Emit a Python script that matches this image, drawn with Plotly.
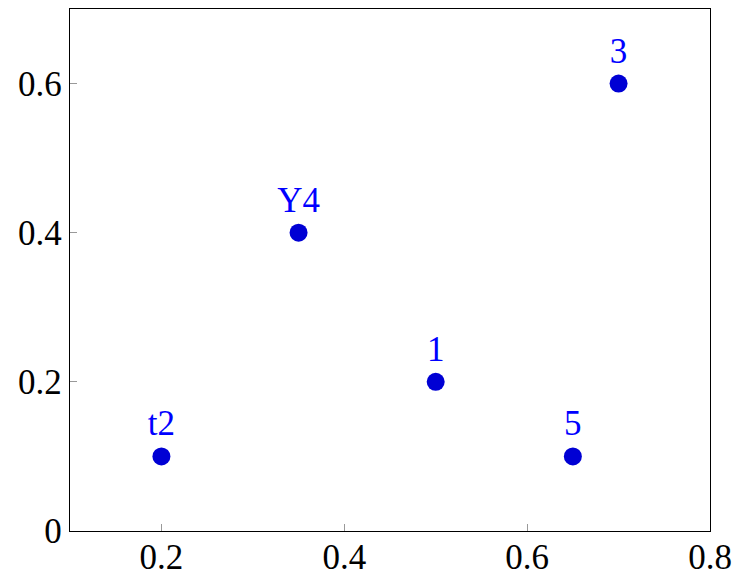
import plotly.graph_objects as go

# point data
xs = [0.5, 0.2, 0.7, 0.35, 0.65]
ys = [0.2, 0.1, 0.6, 0.4, 0.1]
labels = ["1", "t2", "3", "Y4", "5"]

serif = "Liberation Serif"

fig = go.Figure()
fig.add_trace(go.Scatter(
    x=xs, y=ys, mode="markers+text", text=labels,
    textposition="top center",
    textfont=dict(family=serif, size=35, color="#0000ff"),
    marker=dict(size=18, color="#0000d4"),
    cliponaxis=False,
))

axis = dict(showgrid=False, zeroline=False, showline=True, linecolor="black",
            linewidth=1.3, mirror=True, ticks="inside", ticklen=7,
            tickcolor="#999999", tickwidth=1,
            tickfont=dict(family=serif, size=35, color="black"))

fig.update_xaxes(range=[0.1, 0.8], tickvals=[0.2, 0.4, 0.6, 0.8],
                 ticktext=["0.2", "0.4", "0.6", "0.8"],
                 ticklabelstandoff=-5, **axis)
fig.update_yaxes(range=[0, 0.7], tickvals=[0, 0.2, 0.4, 0.6],
                 ticktext=["0", "0.2", "0.4", "0.6"], **axis)

fig.update_layout(width=740, height=570, showlegend=False,
                  margin=dict(l=62, r=38, t=1, b=47, pad=0),
                  plot_bgcolor="white", paper_bgcolor="white")
fig.write_html("out.html")
